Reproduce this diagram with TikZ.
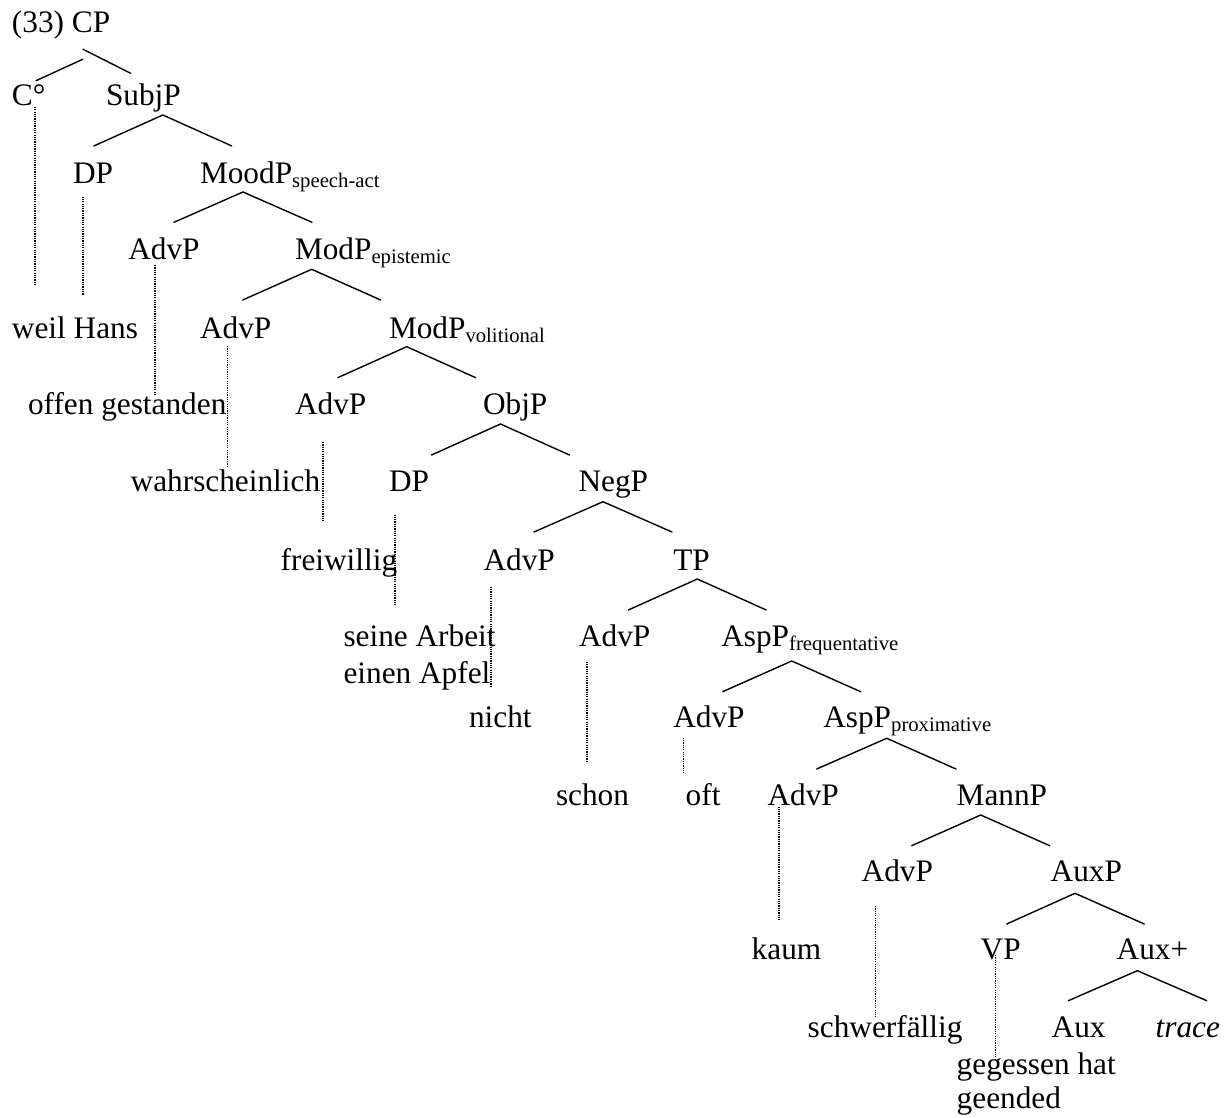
\documentclass[tikz,border=0pt]{standalone}
\usepackage{fontspec}
\setmainfont{Liberation Serif}
% label subscript, as in MoodP_{speech-act}
\newcommand\catsub[1]{{\fontsize{20.7}{24}\selectfont\raisebox{-4pt}{#1}}}
\begin{document}
\begin{tikzpicture}[x=1pt,y=-1pt,
  lbl/.style={anchor=base west, inner sep=0pt, outer sep=0pt,
              font=\fontsize{31.3}{37}\selectfont},
  branch/.style={line width=1.4pt, line cap=round},
  dotline/.style={line width=1.4pt, dash pattern=on 1.2pt off 1.1pt}]
\useasboundingbox (0,0) rectangle (1229,1118);

% ---- category labels and words ----
\node[lbl] (cp)    at (12,33)      {(33) CP};
\node[lbl] (c0)    at (12,106)     {C°};
\node[lbl] (subjp) at (106,106)    {SubjP};
\node[lbl] (dp1)   at (73,184)     {DP};
\node[lbl] (moodp) at (200,184)    {MoodP\catsub{speech-act}};
\node[lbl] (adv1)  at (128.3,259.5){AdvP};
\node[lbl] (mode)  at (295,259.5)  {ModP\catsub{epistemic}};
\node[lbl] (weil)  at (12,338)     {weil Hans};
\node[lbl] (adv2)  at (200,338)    {AdvP};
\node[lbl] (modv)  at (389,338)    {ModP\catsub{volitional}};
\node[lbl] (offen) at (28,414.5)   {offen gestanden};
\node[lbl] (adv3)  at (295,414.5)  {AdvP};
\node[lbl] (objp)  at (483,414.5)  {ObjP};
\node[lbl] (wahr)  at (130.7,491.5){wahrscheinlich};
\node[lbl] (dp2)   at (389,491.5)  {DP};
\node[lbl] (negp)  at (578.5,491.5){NegP};
\node[lbl] (frei)  at (280.7,570)  {freiwillig};
\node[lbl] (adv4)  at (483.5,570)  {AdvP};
\node[lbl] (tp)    at (673.3,570)  {TP};
\node[lbl] (seine) at (343.5,646.7){seine Arbeit};
\node[lbl] (apfel) at (343.5,683.3){einen Apfel};
\node[lbl] (adv5)  at (579,646.7)  {AdvP};
\node[lbl] (aspf)  at (721.3,646.7){AspP\catsub{frequentative}};
\node[lbl] (nicht) at (469,727.5)  {nicht};
\node[lbl] (adv6)  at (673.3,727.5){AdvP};
\node[lbl] (aspp)  at (823.3,727.5){AspP\catsub{proximative}};
\node[lbl] (schon) at (556,805.5)  {schon};
\node[lbl] (oft)   at (685.7,805.5){oft};
\node[lbl] (adv7)  at (767.5,805.5){AdvP};
\node[lbl] (mannp) at (956.7,805.5){MannP};
\node[lbl] (adv8)  at (861.7,881.7){AdvP};
\node[lbl] (auxp)  at (1050.7,881.7){AuxP};
\node[lbl] (kaum)  at (751.7,959.3){kaum};
\node[lbl] (vp)    at (980.7,959.3){VP};
\node[lbl] (auxpl) at (1116.7,959.3){Aux+};
\node[lbl] (schw)  at (807.7,1037.3){schwerfällig};
\node[lbl] (aux)   at (1051.7,1037.3){Aux};
\node[lbl] (trace) at (1155.7,1037.3){\itshape trace};
\node[lbl] (geg)   at (956.7,1074) {gegessen hat};
\node[lbl] (geend) at (956.7,1108.3){geended};

% ---- branches ----
\draw[branch] (cp.base west) ++(70.7,26.3) -- ++(-46.7,21.4);
\draw[branch] (cp.base west) ++(71,16.3) -- ++(47.7,24);
\draw[branch] (subjp.base west) ++(56.8,9)   ++(-69,31) -- ++(69,-31) -- ++(69,31);
\draw[branch] (moodp.base west) ++(43,8)     ++(-69,30.3) -- ++(69,-30.3) -- ++(69,30.3);
\draw[branch] (mode.base west)  ++(16.7,9.8) ++(-69,30.7) -- ++(69,-30.7) -- ++(69,30.7);
\draw[branch] (modv.base west)  ++(17.7,8.7) ++(-69,31) -- ++(69,-31) -- ++(69,31);
\draw[branch] (objp.base west)  ++(17.5,9.5) ++(-69,31) -- ++(69,-31) -- ++(69,31);
\draw[branch] (negp.base west)  ++(24.5,10.2) ++(-69,30.3) -- ++(69,-30.3) -- ++(69,30.3);
\draw[branch] (tp.base west)    ++(24,9)     ++(-69,31) -- ++(69,-31) -- ++(69,31);
\draw[branch] (aspf.base west)  ++(70.4,14.3) ++(-69,30.7) -- ++(69,-30.7) -- ++(69,30.7);
\draw[branch] (aspp.base west)  ++(63.4,10.8) ++(-70,30.7) -- ++(70,-30.7) -- ++(69.3,30.7);
\draw[branch] (mannp.base west) ++(24,9.5)   ++(-69,30.7) -- ++(69,-30.7) -- ++(69,30.7);
\draw[branch] (auxp.base west)  ++(24.3,11.6) ++(-68.3,30.7) -- ++(68.3,-30.7) -- ++(69.3,30.7);
\draw[branch] (auxpl.base west) ++(20.6,11.4) ++(-69,30) -- ++(69,-30) -- ++(69.4,30);

% ---- dotted lines from categories to their words ----
\draw[dotline] (c0.base west)   ++(23,1)      -- ++(0,178);
\draw[dotline] (dp1.base west)  ++(10,12.7)   -- ++(0,98);
\draw[dotline] (adv1.base west) ++(26.7,5.5)  -- ++(0,130);
\draw[dotline] (adv2.base west) ++(27.4,8)    -- ++(0,120.7);
\draw[dotline] (adv3.base west) ++(28,27.5)   -- ++(0,80);
\draw[dotline] (dp2.base west)  ++(6,23)      -- ++(0,92);
\draw[dotline] (adv4.base west) ++(7.5,16.7)  -- ++(0,100);
\draw[dotline] (adv5.base west) ++(8,15)      -- ++(0,100.6);
\draw[dotline] (adv6.base west) ++(10,10.2)   -- ++(0,34.6);
\draw[dotline] (adv7.base west) ++(11.5,1)    -- ++(0,112.8);
\draw[dotline] (adv8.base west) ++(14,24.3)   -- ++(0,111.3);
\draw[dotline] (vp.base west)   ++(15,-4.3)   -- ++(0,105);
\end{tikzpicture}
\end{document}
